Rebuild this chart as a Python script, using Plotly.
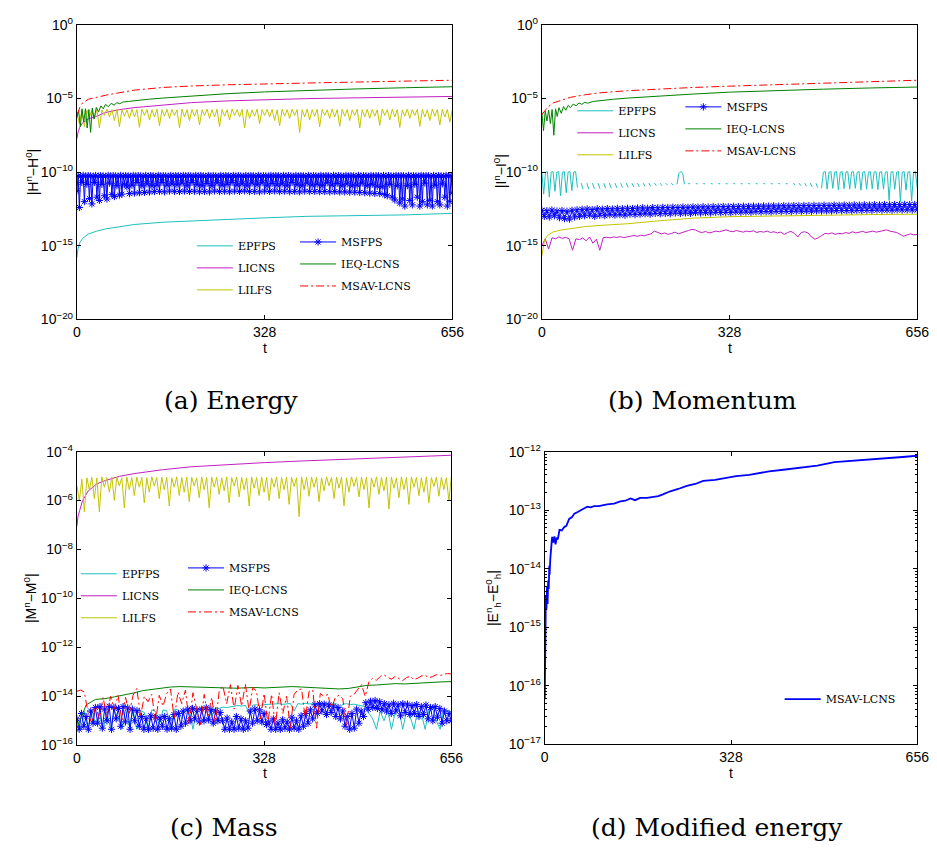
import numpy as np
import plotly.graph_objects as go

# ---------------- axis ticks / labels ----------------
x_ticks = [0, 328, 656]
x_tick_text = ["0", "328", "656"]
y_ticks_ab = [1e-20, 1e-15, 1e-10, 1e-5, 1]
y_text_ab = ["10<sup>−20</sup>", "10<sup>−15</sup>", "10<sup>−10</sup>", "10<sup>−5</sup>", "10<sup>0</sup>"]
y_ticks_c = [1e-16, 1e-14, 1e-12, 1e-10, 1e-8, 1e-6, 1e-4]
y_text_c = ["10<sup>−16</sup>", "10<sup>−14</sup>", "10<sup>−12</sup>", "10<sup>−10</sup>",
            "10<sup>−8</sup>", "10<sup>−6</sup>", "10<sup>−4</sup>"]
y_ticks_d = [1e-17, 1e-16, 1e-15, 1e-14, 1e-13, 1e-12]
y_text_d = ["10<sup>−17</sup>", "10<sup>−16</sup>", "10<sup>−15</sup>", "10<sup>−14</sup>",
            "10<sup>−13</sup>", "10<sup>−12</sup>"]

names = ["EPFPS", "LICNS", "LILFS", "MSFPS", "IEQ-LCNS", "MSAV-LCNS"]
captions = ["(a) Energy", "(b) Momentum", "(c) Mass", "(d) Modified energy"]
y_titles = ["|H<sup>n</sup>−H<sup>0</sup>|", "|I<sup>n</sup>−I<sup>0</sup>|",
            "|M<sup>n</sup>−M<sup>0</sup>|", "|E<sup>n</sup><sub>h</sub>−E<sup>0</sup><sub>h</sub>|"]

# ---------------- shared time samples ----------------
t_smooth = [0, 2, 5, 10, 20, 35, 50, 75, 100, 150, 200, 264, 328, 400, 492, 574, 656]
t_ieq = [0, 3, 6, 9, 12, 15, 18, 21, 24, 27, 30, 34, 38, 42, 46, 50, 55, 60, 65, 70, 75, 80,
         90, 100, 125, 150, 200, 264, 328, 400, 492, 574, 656]

# ---------------- (a) Energy ----------------
epfps_a = [1.58e-16, 6.3e-16, 1.58e-15, 3.2e-15, 6.3e-15, 1.0e-14, 1.4e-14, 2.0e-14, 2.8e-14,
           4.0e-14, 5.0e-14, 6.3e-14, 7.9e-14, 1.0e-13, 1.1e-13, 1.26e-13, 1.6e-13]
licns_a = [1.86e-8, 5.0e-8, 1.12e-7, 2.24e-7, 4.17e-7, 6.3e-7, 1.12e-6, 1.78e-6, 2.4e-6,
           3.7e-6, 5.25e-6, 6.9e-6, 8.5e-6, 9.8e-6, 1.12e-5, 1.26e-5, 1.38e-5]
msav_a = [1.1e-6, 1.0e-6, 2.5e-6, 5.0e-6, 8.9e-6, 1.26e-5, 1.66e-5, 2.5e-5, 3.7e-5,
          5.6e-5, 7.1e-5, 8.5e-5, 1.0e-4, 1.12e-4, 1.32e-4, 1.51e-4, 1.74e-4]
ieq_a = [5.0e-7, 1.58e-6, 1.26e-7, 2.0e-6, 2.5e-7, 2.0e-6, 1.0e-7, 1.78e-6, 5.0e-8, 2.24e-6,
         4.0e-7, 2.5e-6, 1.26e-6, 3.16e-6, 2.0e-6, 4.0e-6, 2.8e-6, 4.7e-6, 3.55e-6, 5.25e-6,
         4.4e-6, 5.75e-6, 6.3e-6, 7.1e-6, 8.9e-6, 1.07e-5, 1.51e-5, 2.14e-5, 2.8e-5, 3.55e-5,
         4.5e-5, 5.4e-5, 6.3e-5]
lilfs_a = [1.1e-6,
           2.0e-7, 1.4e-6, 1.26e-7, 1.6e-6, 5.6e-7, 1.7e-6, 4.5e-7, 1.8e-6, 1.0e-7, 1.7e-6,
           7.1e-7, 1.9e-6, 5.6e-7, 1.75e-6, 3.2e-7, 1.85e-6, 1.2e-7, 1.8e-6, 6.3e-7, 1.7e-6,
           4.5e-7, 1.9e-6, 5.6e-7, 1.75e-6, 1.1e-7, 1.85e-6, 7.1e-7, 1.8e-6, 3.5e-7, 1.7e-6,
           5.6e-7, 1.9e-6, 1.4e-7, 1.75e-6, 6.3e-7, 1.85e-6, 4.5e-7, 1.8e-6, 7.1e-7, 1.7e-6,
           1.0e-7, 1.9e-6, 5.6e-7, 1.75e-6, 3.2e-7, 1.85e-6, 6.3e-7, 1.8e-6, 1.6e-7, 1.7e-6,
           7.1e-7, 1.9e-6, 4.5e-7, 1.75e-6, 5.6e-7, 1.85e-6, 1.2e-7, 1.8e-6, 6.3e-7, 1.7e-6,
           3.5e-7, 1.9e-6, 7.1e-7, 1.75e-6, 5.6e-7, 1.85e-6, 1.0e-7, 1.8e-6, 4.5e-7, 1.7e-6,
           6.3e-7, 1.9e-6, 2.0e-7, 1.75e-6, 7.1e-7, 1.85e-6, 5.6e-7, 1.8e-6, 3.2e-7, 1.7e-6,
           1.4e-7, 1.9e-6, 6.3e-7, 1.75e-6, 4.5e-7, 1.85e-6, 7.1e-7, 1.8e-6, 5.0e-8, 1.7e-6,
           5.6e-7, 1.9e-6, 3.5e-7, 1.75e-6, 6.3e-7, 1.85e-6, 1.2e-7, 1.8e-6, 7.1e-7, 1.7e-6,
           4.5e-7, 1.9e-6, 5.6e-7, 1.75e-6, 1.3e-7, 1.85e-6, 6.3e-7, 1.8e-6, 3.2e-7, 1.7e-6,
           7.1e-7, 1.9e-6, 1.0e-7, 1.75e-6, 5.6e-7, 1.85e-6, 4.5e-7, 1.8e-6, 6.3e-7, 1.7e-6,
           1.5e-7, 1.9e-6, 7.1e-7, 1.75e-6, 3.5e-7, 1.85e-6, 5.6e-7, 1.8e-6, 1.1e-7, 1.7e-6,
           6.3e-7, 1.9e-6, 4.5e-7, 1.75e-6, 7.1e-7, 1.85e-6, 1.3e-7, 1.8e-6, 5.6e-7, 1.7e-6,
           3.2e-7, 1.9e-6, 6.3e-7, 1.75e-6, 1.6e-7, 1.85e-6, 5.6e-7, 1.8e-6, 2.5e-7, 1.7e-6]
msfps_a = [5.4e-12,
           5.6e-11, 4.0e-13, 5.2e-11, 2.0e-11, 6.0e-11, 1.0e-12, 5.4e-11, 1.5e-11, 5.8e-11, 1.6e-12,
           5.6e-11, 7.0e-13, 5.2e-11, 2.0e-11, 6.0e-11, 2.0e-12, 5.4e-11, 1.2e-12, 5.8e-11, 1.5e-11,
           5.6e-11, 2.5e-12, 5.2e-11, 1.5e-12, 6.0e-11, 1.8e-11, 5.4e-11, 3.0e-12, 5.8e-11, 2.2e-12,
           5.6e-11, 1.2e-11, 5.2e-11, 2.8e-12, 6.0e-11, 3.2e-12, 5.4e-11, 1.5e-11, 5.8e-11, 1.0e-11,
           5.6e-11, 3.5e-12, 5.2e-11, 1.3e-11, 6.0e-11, 3.8e-12, 5.4e-11, 2.0e-11, 5.8e-11, 4.0e-12,
           5.6e-11, 1.2e-11, 5.2e-11, 4.2e-12, 6.0e-11, 1.6e-11, 5.4e-11, 4.5e-12, 5.8e-11, 1.2e-11,
           5.6e-11, 4.8e-12, 5.2e-11, 1.3e-11, 6.0e-11, 5.0e-12, 5.4e-11, 2.0e-11, 5.8e-11, 4.6e-12,
           5.6e-11, 1.3e-11, 5.2e-11, 5.2e-12, 6.0e-11, 1.6e-11, 5.4e-11, 5.0e-12, 5.8e-11, 1.4e-11,
           5.6e-11, 4.8e-12, 5.2e-11, 1.8e-11, 6.0e-11, 5.2e-12, 5.4e-11, 1.2e-11, 5.8e-11, 4.9e-12,
           5.6e-11, 2.0e-11, 5.2e-11, 5.1e-12, 6.0e-11, 1.4e-11, 5.4e-11, 4.7e-12, 5.8e-11, 1.2e-11,
           5.6e-11, 5.0e-12, 5.2e-11, 1.7e-11, 6.0e-11, 4.6e-12, 5.4e-11, 1.2e-11, 5.8e-11, 5.3e-12,
           5.6e-11, 1.9e-11, 5.2e-11, 4.8e-12, 6.0e-11, 1.3e-11, 5.4e-11, 5.1e-12, 5.8e-11, 1.5e-11,
           5.6e-11, 4.7e-12, 5.2e-11, 2.0e-11, 6.0e-11, 5.2e-12, 5.4e-11, 1.3e-11, 5.8e-11, 4.9e-12,
           5.6e-11, 1.6e-11, 5.2e-11, 5.4e-12, 6.0e-11, 1.2e-11, 5.4e-11, 4.8e-12, 5.8e-11, 1.8e-11,
           5.6e-11, 5.0e-12, 5.2e-11, 1.4e-11, 6.0e-11, 4.6e-12, 5.4e-11, 1.9e-11, 5.8e-11, 5.2e-12,
           5.6e-11, 1.2e-11, 5.2e-11, 4.9e-12, 6.0e-11, 1.7e-11, 5.4e-11, 5.3e-12, 5.8e-11, 1.3e-11,
           5.6e-11, 4.8e-12, 5.2e-11, 1.6e-11, 6.0e-11, 5.1e-12, 5.4e-11, 1.2e-11, 5.8e-11, 4.7e-12,
           5.6e-11, 2.0e-11, 5.2e-11, 5.0e-12, 6.0e-11, 1.4e-11, 5.4e-11, 4.6e-12, 5.8e-11, 1.2e-11,
           5.6e-11, 5.2e-12, 5.2e-11, 1.8e-11, 6.0e-11, 4.8e-12, 5.4e-11, 1.3e-11, 5.8e-11, 5.0e-12,
           5.6e-11, 1.5e-11, 5.2e-11, 4.7e-12, 6.0e-11, 1.2e-11, 5.4e-11, 4.9e-12, 5.8e-11, 1.9e-11,
           5.6e-11, 4.6e-12, 5.2e-11, 1.3e-11, 6.0e-11, 4.8e-12, 5.4e-11, 1.7e-11, 5.8e-11, 4.5e-12,
           5.6e-11, 1.2e-11, 5.2e-11, 4.6e-12, 6.0e-11, 1.6e-11, 5.4e-11, 4.4e-12, 5.8e-11, 1.2e-11,
           5.6e-11, 4.4e-12, 5.2e-11, 1.3e-11, 6.0e-11, 4.2e-12, 5.4e-11, 1.8e-11, 5.8e-11, 4.0e-12,
           5.6e-11, 1.2e-11, 5.2e-11, 3.8e-12, 6.0e-11, 1.5e-11, 5.4e-11, 3.6e-12, 5.8e-11, 1.1e-11,
           5.6e-11, 3.5e-12, 5.2e-11, 1.0e-11, 6.0e-11, 3.0e-12, 5.4e-11, 2.5e-12, 5.8e-11, 1.5e-11,
           5.6e-11, 2.0e-12, 5.2e-11, 1.3e-12, 6.0e-11, 1.2e-11, 5.4e-11, 8.0e-13, 5.8e-11, 1.5e-12,
           5.6e-11, 5.0e-13, 5.2e-11, 1.2e-11, 6.0e-11, 1.2e-12, 5.4e-11, 6.0e-13, 5.8e-11, 1.5e-11,
           5.6e-11, 2.0e-12, 5.2e-11, 5.0e-13, 6.0e-11, 1.0e-12, 5.4e-11, 1.8e-11, 5.8e-11, 6.0e-13,
           5.6e-11, 1.2e-12, 5.2e-11, 5.0e-13, 6.0e-11, 1.3e-11, 5.4e-11, 1.0e-12, 5.8e-11, 6.0e-13,
           5.6e-11, 1.6e-11, 5.2e-11, 2.0e-12, 6.0e-11, 5.0e-13, 5.4e-11, 1.0e-12, 5.8e-11, 4.0e-12]

# ---------------- (b) Momentum ----------------
epfps_b = [1.1e-10, 3.2e-12, 1.0e-10, 1.1e-10, 2.0e-12, 1.0e-10, 1.1e-10, 5.0e-12, 1.0e-10, 1.1e-10,
           2.5e-12, 1.0e-10, 1.1e-10, 4.0e-12, 1.0e-10, 1.1e-10, 5.6e-12, 1.0e-10, 1.1e-10, 9.0e-12,
           None, 1.8e-11, 7.0e-12, None, 1.8e-11, 7.0e-12, None, 1.8e-11, 7.5e-12,
           None, 1.8e-11, 7.5e-12, None, 1.8e-11, 8.0e-12, None, 1.8e-11, 8.0e-12,
           None, 1.8e-11, 8.5e-12, None, 1.8e-11, 9.0e-12, None, 1.8e-11, 9.0e-12,
           None, 1.8e-11, 1.0e-11, None, 1.8e-11, 1.0e-11, None, 1.8e-11, 1.1e-11,
           None, 1.8e-11, 1.1e-11, None, 1.8e-11, 1.2e-11, None, 1.8e-11, 1.2e-11,
           None, 1.8e-11, 1.3e-11, None, 1.8e-11, 1.3e-11, None,
           1.5e-11, 8.0e-11, 1.1e-10, 9.0e-11, 1.5e-11, None,
           1.7e-11, 1.6e-11, None, None, 1.7e-11, 1.6e-11, None, None,
           1.7e-11, 1.6e-11, None, None, 1.7e-11, 1.6e-11, None, None,
           1.7e-11, 1.6e-11, None, None, 1.7e-11, 1.6e-11, None, None,
           1.7e-11, 1.6e-11, None, None, 1.7e-11, 1.6e-11, None, None,
           1.7e-11, 1.6e-11, None, None, 1.7e-11, 1.6e-11, None, None,
           1.7e-11, 1.6e-11, None, None, 1.7e-11, 1.6e-11, None, None,
           1.7e-11, 1.6e-11, None, None, 1.7e-11, 1.6e-11, None, None,
           1.8e-11, 1.3e-11, None, 1.8e-11, 1.2e-11, None, 1.8e-11, 1.1e-11, None,
           1.8e-11, 1.0e-11, None, 1.8e-11, 9.0e-12, None,
           8.0e-12,
           1.0e-10, 1.1e-10, 7.0e-12, 1.0e-10, 1.1e-10, 8.0e-12, 1.0e-10, 1.1e-10, 6.5e-12,
           1.0e-10, 1.1e-10, 7.5e-12, 1.0e-10, 1.1e-10, 7.0e-12, 1.0e-10, 1.1e-10, 8.0e-12,
           1.0e-10, 1.1e-10, 6.0e-12, 1.0e-10, 1.1e-10, 7.0e-12, 1.0e-10, 1.1e-10, 7.5e-12,
           1.0e-10, 1.1e-10, 6.5e-12, 1.0e-10, 1.1e-10, 7.0e-12, 1.0e-10, 1.1e-10, 1.2e-12,
           1.0e-10, 1.1e-10, 7.0e-12, 1.0e-10, 1.1e-10, 1.0e-12, 1.0e-10, 1.1e-10, 6.0e-12,
           1.0e-10, 1.1e-10, 1.1e-12, 1.0e-10, 1.1e-10, 8.0e-12]
licns_b = [1.0e-15, 3.0e-15, 6e-16, 3.5e-15, 3.0e-15, 4.0e-15, 3.2e-15, 3.8e-15, 3.0e-15, 5e-16,
           3.0e-15, 2.6e-15, 3.4e-15, 2.2e-15, 4.0e-15, 1.5e-15, 2.8e-15, 5e-16, 3.6e-15, 3.8e-15,
           3.5e-15, 4.0e-15, 3.7e-15, 4.2e-15, 3.6e-15, 4.0e-15, 4.6e-15, 5.0e-15, 4.4e-15, 5.2e-15,
           4.8e-15, 5.5e-15, 6.5e-15, 1.0e-14, 8.0e-15, 6.5e-15, 7.5e-15, 6.0e-15, 7.0e-15, 8.5e-15,
           6.5e-15, 7.5e-15, 9.0e-15, 1.1e-14, 1.3e-14, 1.2e-14, 9.0e-15, 8.0e-15, 9.5e-15, 7.5e-15,
           8.5e-15, 1.0e-14, 9.0e-15, 1.1e-14, 1.2e-14, 1.0e-14, 9.0e-15, 1.1e-14, 9.5e-15, 8.5e-15,
           1.0e-14, 9.0e-15, 1.05e-14, 8.0e-15, 9.5e-15, 8.5e-15, 1.0e-14, 8.0e-15, 9.0e-15, 7.5e-15,
           8.5e-15, 6.0e-15, 8.0e-15, 9.5e-15, 7.0e-15, 4.0e-15, 8.0e-15, 9.0e-15, 7.5e-15, 4.0e-15,
           2.8e-15, 3.5e-15, 5.0e-15, 7.0e-15, 6.5e-15, 7.5e-15, 6.0e-15, 7.0e-15, 6.5e-15, 8.0e-15,
           7.0e-15, 9.0e-15, 7.5e-15, 8.5e-15, 9.5e-15, 8.0e-15, 9.0e-15, 1.0e-14, 8.5e-15, 9.5e-15,
           1.1e-14, 1.2e-14, 1.0e-14, 9.0e-15, 8.0e-15, 6.0e-15, 4.5e-15, 5.5e-15, 6.5e-15, 5.5e-15,
           6.0e-15]
lilfs_b = [2.0e-16, 6.3e-16, 2.5e-15, 5.0e-15, 8.9e-15, 1.2e-14, 1.51e-14, 2.0e-14, 2.4e-14,
           3.16e-14, 4.8e-14, 7.6e-14, 9.5e-14, 1.07e-13, 1.2e-13, 1.32e-13, 1.41e-13]
msav_b = [7.9e-7, 1.0e-6, 1.58e-6, 2.5e-6, 5.0e-6, 7.9e-6, 1.2e-5, 1.78e-5, 2.4e-5,
          3.4e-5, 4.4e-5, 5.6e-5, 6.9e-5, 8.7e-5, 1.1e-4, 1.38e-4, 1.74e-4]
ieq_b = [1.2e-6, 6.6e-8, 1.4e-6, 3.0e-7, 1.6e-6, 2.0e-7, 1.8e-6, 3.2e-8, 2.0e-6, 6.0e-7,
         2.4e-6, 1.0e-6, 2.8e-6, 1.6e-6, 3.4e-6, 2.4e-6, 4.2e-6, 3.2e-6, 5.0e-6, 4.0e-6,
         5.6e-6, 4.8e-6, 6.3e-6, 7.1e-6, 8.9e-6, 1.07e-5, 1.45e-5, 2.0e-5, 2.7e-5, 3.4e-5,
         4.3e-5, 5.2e-5, 6.0e-5]
msfps_b = [2.6e-13, 1.0e-13, 2.4e-13, 9e-14, 2.7e-13, 1.1e-13, 2.3e-13, 8e-14, 2.5e-13, 7e-14,
           2.2e-13, 6.5e-14, 2.6e-13, 9e-14, 2.8e-13, 1.0e-13,
           3.0e-13, 1.1e-13, 3.2e-13, 1.2e-13, 2.9e-13, 1.0e-13, 3.3e-13, 1.2e-13, 3.1e-13, 1.1e-13,
           3.4e-13, 1.3e-13, 3.2e-13, 1.2e-13, 3.5e-13, 1.3e-13, 3.3e-13, 1.2e-13, 3.6e-13, 1.4e-13,
           3.4e-13, 1.3e-13, 3.7e-13, 1.4e-13,
           3.8e-13, 1.5e-13, 3.6e-13, 1.4e-13, 4.0e-13, 1.6e-13, 3.8e-13, 1.5e-13, 4.1e-13, 1.6e-13,
           3.9e-13, 1.5e-13, 4.2e-13, 1.7e-13, 4.0e-13, 1.6e-13, 4.3e-13, 1.7e-13, 4.1e-13, 1.6e-13,
           4.4e-13, 1.8e-13, 4.2e-13, 1.7e-13, 4.5e-13, 1.8e-13, 4.3e-13, 1.7e-13, 4.6e-13, 1.9e-13,
           4.4e-13, 1.8e-13, 4.7e-13, 1.9e-13, 4.5e-13, 1.8e-13, 4.8e-13, 2.0e-13, 4.6e-13, 1.9e-13,
           4.9e-13, 2.0e-13, 4.7e-13, 1.9e-13, 5.0e-13, 2.1e-13, 4.8e-13, 2.0e-13, 5.1e-13, 2.1e-13,
           4.9e-13, 2.0e-13, 5.2e-13, 2.2e-13, 5.0e-13, 2.1e-13, 5.3e-13, 2.2e-13, 5.1e-13, 2.1e-13,
           5.4e-13, 2.3e-13, 5.2e-13, 2.2e-13, 5.5e-13, 2.3e-13, 5.3e-13, 2.2e-13, 5.6e-13, 2.4e-13,
           5.4e-13, 2.3e-13, 5.7e-13, 2.4e-13, 5.5e-13, 2.3e-13,
           5.8e-13, 2.5e-13, 5.6e-13, 2.4e-13, 5.9e-13, 2.5e-13, 5.7e-13, 2.4e-13, 6.0e-13, 2.6e-13,
           5.8e-13, 2.5e-13, 6.1e-13, 2.6e-13, 5.9e-13, 2.5e-13, 6.2e-13, 2.7e-13, 6.0e-13, 2.6e-13,
           6.3e-13, 2.7e-13, 6.1e-13, 2.6e-13, 6.4e-13, 2.8e-13, 6.2e-13, 2.7e-13, 6.5e-13, 2.8e-13,
           6.3e-13, 2.7e-13, 6.4e-13, 2.8e-13]

# ---------------- (c) Mass ----------------
licns_c = [8.9e-8, 2.24e-7, 4.0e-7, 1.0e-6, 2.5e-6, 4.8e-6, 6.6e-6, 9.8e-6, 1.26e-5,
           1.82e-5, 2.4e-5, 2.95e-5, 3.55e-5, 4.2e-5, 5.1e-5, 6.0e-5, 7.1e-5]
lilfs_c = [4.0e-6,
           1.0e-6, 7.5e-6, 3.5e-7, 8.5e-6, 2.8e-6, 8.9e-6, 1.2e-6, 8.5e-6, 3.5e-7, 9.3e-6,
           3.5e-6, 8.7e-6, 2.2e-6, 9.1e-6, 1.0e-6, 8.9e-6, 4.0e-6, 8.5e-6, 5.0e-7, 9.3e-6,
           2.8e-6, 8.7e-6, 1.6e-6, 9.1e-6, 3.5e-6, 8.9e-6, 8.0e-7, 8.5e-6, 2.2e-6, 9.3e-6,
           4.0e-6, 8.7e-6, 1.2e-6, 9.1e-6, 2.8e-6, 8.9e-6, 6.0e-7, 8.5e-6, 3.5e-6, 9.3e-6,
           1.6e-6, 8.7e-6, 2.2e-6, 9.1e-6, 9.0e-7, 8.9e-6, 4.0e-6, 8.5e-6, 1.3e-6, 9.3e-6,
           2.8e-6, 8.7e-6, 5.0e-7, 9.1e-6, 3.5e-6, 8.9e-6, 1.8e-6, 8.5e-6, 2.5e-6, 9.3e-6,
           8.0e-7, 8.7e-6, 4.0e-6, 9.1e-6, 1.4e-6, 8.9e-6, 2.8e-6, 8.5e-6, 6.0e-7, 9.3e-6,
           3.2e-6, 8.7e-6, 1.6e-6, 9.1e-6, 2.2e-6, 8.9e-6, 1.0e-6, 8.5e-6, 3.5e-6, 9.3e-6,
           1.2e-6, 8.7e-6, 2.8e-6, 9.1e-6, 7.0e-7, 8.9e-6, 3.8e-6, 8.5e-6, 2.2e-7, 9.3e-6,
           2.8e-6, 8.7e-6, 1.5e-6, 9.1e-6, 3.5e-6, 8.9e-6, 9.0e-7, 8.5e-6, 2.5e-6, 9.3e-6,
           4.0e-6, 8.7e-6, 1.2e-6, 9.1e-6, 3.2e-6, 8.9e-6, 6.0e-7, 8.5e-6, 2.2e-6, 9.3e-6,
           3.8e-6, 8.7e-6, 1.4e-6, 9.1e-6, 2.8e-6, 8.9e-6, 5.0e-7, 8.5e-6, 3.5e-6, 9.3e-6,
           1.8e-6, 8.7e-6, 2.5e-6, 9.1e-6, 4.5e-7, 8.9e-6, 3.2e-6, 8.5e-6, 1.3e-6, 9.3e-6,
           2.8e-6, 8.7e-6, 7.0e-7, 9.1e-6, 3.5e-6, 8.9e-6, 1.6e-6, 8.5e-6, 2.2e-6, 9.3e-6,
           8.0e-7, 8.7e-6, 3.8e-6, 9.1e-6, 1.5e-6, 8.9e-6, 2.8e-6, 8.5e-6, 1.0e-6, 8.9e-6]
epfps_c = [1.3e-15, 4.5e-16, 2.5e-15, 4.5e-16, 2.8e-15, 7e-16, 2.0e-15,
           4.5e-16, 2.2e-15, 4.5e-16, 2.5e-15, 1.5e-15, 4.5e-16, 2.8e-15, 6e-16, 2.6e-15, 4.5e-16,
           2.6e-15, 2.2e-15, 4.5e-16, 2.8e-15, 2.4e-15, 7e-16, 2.8e-15, 2.6e-15, 4.5e-16, 3.0e-15,
           2.8e-15, 1.2e-15, 3.0e-15, 2.7e-15, 4.5e-16, 3.0e-15, 3.2e-15,
           3.0e-15, 3.2e-15, 1.5e-15, 3.4e-15, 3.2e-15, 3.6e-15, 3.5e-15, 3.8e-15, 3.9e-15,
           4.2e-15, 4.0e-15, 4.3e-15, 2.0e-15, 4.4e-15, 4.5e-15, 4.3e-15, 4.6e-15, 4.7e-15,
           4.8e-15, 4.6e-15, 5.0e-15, 4.7e-15, 4.9e-15, 5.1e-15, 2.5e-15, 5.0e-15, 4.8e-15, 5.2e-15,
           4.9e-15, 5.0e-15, 5.1e-15, 4.8e-15, 5.0e-15, 5.2e-15, 4.9e-15, 5.0e-15, 3.0e-15, 4.8e-15,
           5.0e-15, 4.6e-15, 4.8e-15, 4.5e-15, 4.2e-15, 3.8e-15,
           2.0e-15, 1.2e-15, 4.5e-16, 2.5e-15, 1.0e-15, 2.8e-15, 4.5e-16, 2.2e-15, 3.0e-15, 4.5e-16,
           2.4e-15, 1.5e-15, 4.5e-16, 2.6e-15, 2.0e-15, 4.5e-16, 2.8e-15, 3.2e-15, 1.0e-15, 4.5e-16,
           3.0e-15, 2.5e-15, 2.2e-15]
msfps_c = [1.2e-15, 4.5e-16, 2.0e-15, 6e-16, 1.5e-15, 4.5e-16, 2.5e-15, 8e-16,
           3.5e-15, 8e-16, 3.8e-15, 5e-16, 3.0e-15, 1.0e-15, 3.9e-15, 4.5e-16, 3.5e-15, 1.2e-15,
           3.2e-15, 6e-16, 3.8e-15, 9e-16, 3.4e-15, 4.5e-16, 3.0e-15, 1.0e-15, 2.6e-15, 6e-16,
           1.5e-15, 4.5e-16, 1.2e-15, 4.5e-16, 1.6e-15, 5e-16, 1.4e-15, 4.5e-16, 1.3e-15, 6e-16,
           1.5e-15, 4.5e-16, 1.2e-15, 5e-16, 1.8e-15, 4.5e-16, 2.0e-15, 6e-16, 2.5e-15, 8e-16,
           3.0e-15, 1.0e-15, 3.2e-15, 1.2e-15, 2.8e-15, 9e-16, 3.0e-15, 1.0e-15, 3.4e-15, 1.1e-15,
           2.9e-15, 8e-16, 2.5e-15, 1.0e-15, 2.2e-15,
           1.0e-15, 4.5e-16, 1.3e-15, 4.5e-16, 9e-16, 4.5e-16, 1.5e-15, 5e-16, 1.2e-15, 4.5e-16,
           1.0e-15, 5e-16,
           2.5e-15, 8e-16, 3.0e-15, 1.0e-15, 2.8e-15, 9e-16, 2.0e-15, 7e-16,
           9e-16, 4.5e-16, 1.2e-15, 4.5e-16, 8e-16, 4.5e-16, 1.1e-15, 5e-16, 9e-16, 4.5e-16,
           1.4e-15, 5e-16, 1.0e-15, 4.5e-16, 1.6e-15, 6e-16, 2.0e-15, 8e-16, 2.8e-15, 1.2e-15,
           4.5e-15, 2.0e-15, 5.0e-15, 2.5e-15, 4.8e-15, 1.8e-15, 4.4e-15, 2.2e-15, 4.0e-15, 1.5e-15,
           3.5e-15, 1.2e-15,
           2.5e-15, 6e-16, 1.5e-15, 4.5e-16, 2.0e-15, 5e-16, 3.0e-15, 8e-16, 2.5e-15, 1.5e-15,
           5.5e-15, 3.0e-15, 6.3e-15, 3.5e-15, 6.8e-15, 3.2e-15, 6.0e-15, 2.8e-15, 5.0e-15, 2.5e-15,
           4.5e-15, 2.0e-15, 5.2e-15, 2.5e-15, 4.5e-15, 1.6e-15, 5.0e-15, 2.2e-15, 4.8e-15, 1.8e-15,
           4.2e-15, 2.0e-15, 4.6e-15, 1.5e-15, 3.8e-15, 1.8e-15, 4.4e-15, 1.2e-15, 3.5e-15, 1.0e-15,
           3.8e-15, 1.4e-15, 3.2e-15, 8e-16, 2.5e-15, 1.0e-15, 2.0e-15, 1.0e-15]
ieq_c = [5e-16, 4.5e-15, 7.5e-15, 8e-15, 9.5e-15, 1.1e-14, 1.35e-14, 1.7e-14, 1.9e-14, 2.1e-14,
         2.4e-14, 2.5e-14, 2.45e-14, 2.5e-14, 2.3e-14, 2.35e-14, 2.2e-14, 2.15e-14, 2.25e-14, 2.3e-14,
         2.2e-14, 2.3e-14, 2.45e-14, 2.5e-14, 2.4e-14, 2.3e-14, 2.2e-14, 2.15e-14, 2.0e-14, 2.1e-14,
         2.4e-14, 2.8e-14, 2.9e-14, 3.1e-14, 3.3e-14, 3.2e-14, 3.4e-14, 3.6e-14, 3.7e-14, 3.9e-14,
         4.0e-14]
msav_c = [1.6e-14, 1.8e-14, 1.5e-14, 2.0e-15, 8e-16,
          4e-15, 1.2e-15, 9e-15, 1.5e-15, 1.0e-14, 3e-15, 1.1e-14, 1.0e-15, 9e-15, 2e-15, 1.1e-14,
          2.1e-14, 1.5e-15, 1.0e-14, 6e-15, 1.2e-14, 9e-16, 1.1e-14, 4e-15, 1.3e-14,
          2.0e-14, 1.2e-15, 1.5e-14, 5e-15, 1.8e-14, 8e-16, 1.4e-14, 3e-15, 7e-16,
          1.2e-14, 1.5e-15, 9e-15, 8e-16, 1.6e-14,
          2.6e-14, 5e-15, 3.0e-14, 3e-15, 2.8e-14, 4e-15, 3.2e-14, 2.5e-15, 2.4e-14,
          1.5e-14, 1.2e-15, 1.3e-14, 8e-16, 1.2e-14, 6e-16, 1.4e-14, 2e-15, 1.0e-14, 5e-16, 1.2e-14, 1.8e-14,
          2.0e-14, 1.2e-15, 1.6e-14, 1.8e-14, 5e-16, 1.3e-14, 1.0e-14,
          1.2e-14, 3e-15, 9e-15, 1.1e-14, 8e-15, 6e-16, 1.0e-14, 1.2e-14, 2.0e-14,
          3.0e-14, 1.0e-14, 4.0e-14, 5.5e-14, 4.5e-14, 6.5e-14, 7.5e-14,
          6.0e-14, 5.0e-14, 6.5e-14, 5.2e-14, 4.4e-14, 5.8e-14, 6.6e-14, 4.8e-14, 5.5e-14, 6.8e-14,
          7.2e-14, 5.8e-14, 6.4e-14, 7.6e-14, 7.0e-14, 8.0e-14, 8.5e-14, 8.2e-14]

# ---------------- (d) Modified energy ----------------
t_d = [0, 0.5, 1, 2, 3, 4, 5, 6, 7, 8, 8.5, 10, 12, 13, 15, 17, 19, 21, 23, 26, 30, 34, 38, 43,
       48, 52, 58, 64, 70, 75, 81, 87, 95, 110, 122, 133, 142, 151, 159, 168, 180, 191, 200, 208,
       221, 235, 250, 265, 279, 300, 320, 337, 360, 395, 420, 452, 480, 510, 540, 568, 600, 630, 656]
msav_d = [5.9e-17, 3.2e-16, 1.58e-15, 3.55e-15, 2.0e-15, 5.0e-15, 2.5e-15, 6.3e-15, 4.5e-15, 1.12e-14,
          7.9e-15, 1.58e-14, 2.7e-14, 3.5e-14, 2.8e-14, 3.55e-14, 2.6e-14, 3.4e-14, 3.16e-14, 4.6e-14,
          4.5e-14, 5.1e-14, 5.4e-14, 7.1e-14, 7.6e-14, 8.7e-14, 9.3e-14, 1.0e-13, 1.07e-13, 1.15e-13,
          1.12e-13, 1.17e-13, 1.17e-13, 1.26e-13, 1.29e-13, 1.41e-13, 1.45e-13, 1.58e-13, 1.48e-13,
          1.62e-13, 1.62e-13, 1.66e-13, 1.74e-13, 1.86e-13, 2.1e-13, 2.3e-13, 2.6e-13, 2.8e-13,
          3.16e-13, 3.3e-13, 3.55e-13, 3.8e-13, 4.0e-13, 4.6e-13, 4.9e-13, 5.4e-13, 5.75e-13,
          6.6e-13, 6.9e-13, 7.2e-13, 7.6e-13, 8.1e-13, 8.5e-13]

# ---------------- styling ----------------
C_CYAN = "#1fbfbf"
C_MAG = "#c21fc2"
C_YEL = "#c4c400"
C_BLUE = "#0000ff"
C_GREEN = "#008000"
C_RED = "#ff0000"
DASHDOT = "8px,3px,2px,3px"
SERIF = "DejaVu Serif"
SANS = "Liberation Sans"
W, H = 937, 850


def grid(vals):
    return np.linspace(0, 656, len(vals))


fig = go.Figure()


def add(x, y, name, color, xa, ya, legend, group, dash="solid", width=1.0, star=False):
    kw = dict(x=x, y=y, name=name, xaxis=xa, yaxis=ya, legend=legend, legendgroup=group,
              line=dict(color=color, width=width, dash=dash), hoverinfo="skip")
    if star:
        kw["mode"] = "lines+markers"
        kw["marker"] = dict(symbol="asterisk-open", size=6, color=color,
                            line=dict(width=1, color=color))
    else:
        kw["mode"] = "lines"
    fig.add_trace(go.Scatter(**kw))


# (a)
add(t_smooth, epfps_a, names[0], C_CYAN, "x", "y", "legend", "a0")
add(t_smooth, licns_a, names[1], C_MAG, "x", "y", "legend", "a1")
add(grid(lilfs_a), lilfs_a, names[2], C_YEL, "x", "y", "legend", "a2")
add(grid(msfps_a), msfps_a, names[3], C_BLUE, "x", "y", "legend2", "a3", star=True)
add(t_ieq, ieq_a, names[4], C_GREEN, "x", "y", "legend2", "a4")
add(t_smooth, msav_a, names[5], C_RED, "x", "y", "legend2", "a5", dash=DASHDOT)
# (b)
add(grid(epfps_b), epfps_b, names[0], C_CYAN, "x2", "y2", "legend3", "b0")
add(grid(licns_b), licns_b, names[1], C_MAG, "x2", "y2", "legend3", "b1")
add(t_smooth, lilfs_b, names[2], C_YEL, "x2", "y2", "legend3", "b2")
add(grid(msfps_b), msfps_b, names[3], C_BLUE, "x2", "y2", "legend4", "b3", star=True)
add(t_ieq, ieq_b, names[4], C_GREEN, "x2", "y2", "legend4", "b4")
add(t_smooth, msav_b, names[5], C_RED, "x2", "y2", "legend4", "b5", dash=DASHDOT)
# (c)
add(grid(epfps_c), epfps_c, names[0], C_CYAN, "x3", "y3", "legend5", "c0")
add(t_smooth, licns_c, names[1], C_MAG, "x3", "y3", "legend5", "c1")
add(grid(lilfs_c), lilfs_c, names[2], C_YEL, "x3", "y3", "legend5", "c2")
add(grid(msfps_c), msfps_c, names[3], C_BLUE, "x3", "y3", "legend6", "c3", star=True)
add(grid(ieq_c), ieq_c, names[4], C_GREEN, "x3", "y3", "legend6", "c4")
add(grid(msav_c), msav_c, names[5], C_RED, "x3", "y3", "legend6", "c5", dash=DASHDOT)
# (d)
add(t_d, msav_d, names[5], C_BLUE, "x4", "y4", "legend7", "d0", width=1.8)


def px_x(p):
    return p / W


def px_y(p):
    return 1 - p / H


axis_common = dict(showline=True, linecolor="black", linewidth=1, mirror="ticks",
                   ticks="inside", ticklen=4, tickcolor="black", showgrid=False, zeroline=False,
                   tickfont=dict(family=SANS, size=14, color="black"))


def xax(d0, d1, anchor):
    return dict(axis_common, domain=[px_x(d0), px_x(d1)], anchor=anchor, range=[0, 656],
                tickmode="array", tickvals=x_ticks, ticktext=x_tick_text)


def yax(top, bottom, anchor, rng, tv, tt, minor=False):
    d = dict(axis_common, domain=[px_y(bottom), px_y(top)], anchor=anchor, type="log", range=rng,
             tickmode="array", tickvals=tv, ticktext=tt)
    if minor:
        d["minor"] = dict(ticks="inside", ticklen=2, tickcolor="black", dtick="D1", showgrid=False)
    return d


leg_common = dict(xanchor="left", yanchor="top", bgcolor="rgba(0,0,0,0)", borderwidth=0,
                  font=dict(family=SERIF, size=11, color="black"),
                  tracegroupgap=3, itemwidth=36, traceorder="grouped")

fig.update_layout(
    width=W, height=H, margin=dict(l=0, r=0, t=0, b=0),
    paper_bgcolor="white", plot_bgcolor="white", showlegend=True,
    xaxis=xax(66, 448, "y"),
    yaxis=yax(7, 308, "x", [-20, 0], y_ticks_ab, y_text_ab),
    xaxis2=xax(539, 921, "y2"),
    yaxis2=yax(7, 308, "x2", [-20, 0], y_ticks_ab, y_text_ab),
    xaxis3=xax(66, 447, "y3"),
    yaxis3=yax(443, 743, "x3", [-16, -4], y_ticks_c, y_text_c),
    xaxis4=xax(542, 921, "y4"),
    yaxis4=yax(443, 742, "x4", [-17, -12], y_ticks_d, y_text_d, minor=True),
    legend=dict(leg_common, x=px_x(183), y=px_y(218)),
    legend2=dict(leg_common, x=px_x(288), y=px_y(214)),
    legend3=dict(leg_common, x=px_x(570), y=px_y(80)),
    legend4=dict(leg_common, x=px_x(680), y=px_y(76)),
    legend5=dict(leg_common, x=px_x(65), y=px_y(553)),
    legend6=dict(leg_common, x=px_x(174), y=px_y(547)),
    legend7=dict(leg_common, x=px_x(781), y=px_y(681)),
)

annots = []
# captions
for text, cx, cy in [(captions[0], 223, 391), (captions[1], 702, 391),
                     (captions[2], 216, 827), (captions[3], 717, 827)]:
    annots.append(dict(text=text, x=px_x(cx), y=px_y(cy), xref="paper", yref="paper",
                       showarrow=False, xanchor="center", yanchor="middle",
                       font=dict(family=SERIF, size=25, color="black")))
# y titles
for text, cx, cy in [(y_titles[0], 20, 157), (y_titles[1], 496, 157),
                     (y_titles[2], 19, 593), (y_titles[3], 490, 593)]:
    annots.append(dict(text=text, x=px_x(cx), y=px_y(cy), xref="paper", yref="paper",
                       showarrow=False, xanchor="center", yanchor="middle", textangle=-90,
                       font=dict(family=SANS, size=14, color="black")))
# x titles
for cx, cy in [(257, 337), (730, 337), (257, 771), (731, 771)]:
    annots.append(dict(text="t", x=px_x(cx), y=px_y(cy), xref="paper", yref="paper",
                       showarrow=False, xanchor="center", yanchor="middle",
                       font=dict(family=SANS, size=14, color="black")))
fig.update_layout(annotations=annots)

fig.write_html("out.html")
